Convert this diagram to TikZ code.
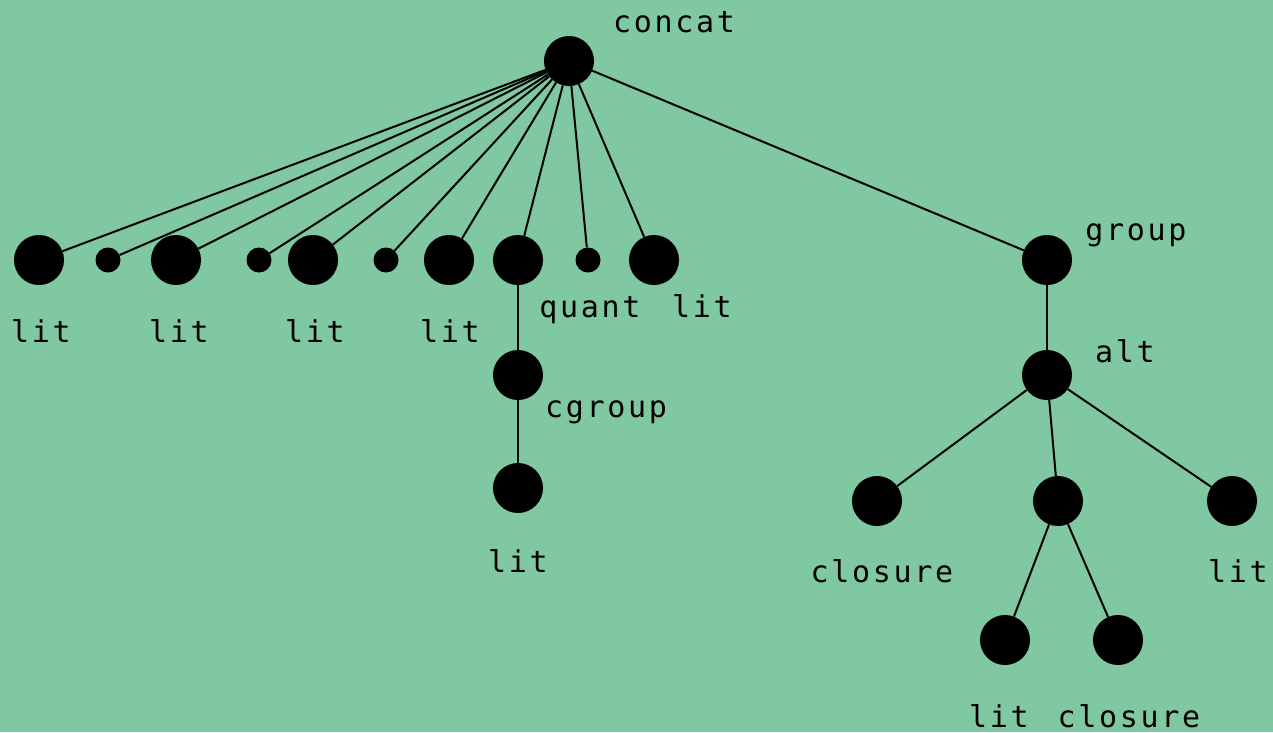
\documentclass[tikz,border=0pt]{standalone}
\usepackage{fontspec}
\newfontfamily\labelfont[LetterSpace=9]{DejaVu Sans Mono}
\definecolor{bgreen}{RGB}{128,200,161}
\begin{document}
\begin{tikzpicture}[x=1pt,y=-1pt,
  big/.style={circle,fill=black,inner sep=0pt,minimum size=50pt},
  small/.style={circle,fill=black,inner sep=0pt,minimum size=25pt},
  lbl/.style={anchor=base,inner sep=0pt,font=\labelfont\fontsize{30}{30}\selectfont},
  edge/.style={line width=2pt}]
\fill[bgreen] (0,0) rectangle (1273,732);
\useasboundingbox (0,0) rectangle (1273,732);

% tree nodes
\node[big] (concat) at (569,61) {};
\node[big] (l1) at (39,260) {};
\node[small] (s1) at (108,260) {};
\node[big] (l2) at (176,260) {};
\node[small] (s2) at (259,260) {};
\node[big] (l3) at (313,260) {};
\node[small] (s3) at (386,260) {};
\node[big] (l4) at (449,260) {};
\node[big] (quant) at (518,260) {};
\node[small] (s4) at (588,260) {};
\node[big] (l5) at (654,260) {};
\node[big] (group) at (1047,260) {};
\node[big] (cgroup) at (518,375) {};
\node[big] (l6) at (518,488) {};
\node[big] (alt) at (1047,375) {};
\node[big] (clo1) at (877,501) {};
\node[big] (mid) at (1058,501) {};
\node[big] (l7) at (1232,501) {};
\node[big] (l8) at (1005,640) {};
\node[big] (clo2) at (1118,640) {};

% connectors
\foreach \c in {l1,s1,l2,s2,l3,s3,l4,quant,s4,l5,group}
  \draw[edge] (concat) -- (\c);
\draw[edge] (quant) -- (cgroup);
\draw[edge] (cgroup) -- (l6);
\draw[edge] (group) -- (alt);
\draw[edge] (alt) -- (clo1);
\draw[edge] (alt) -- (mid);
\draw[edge] (alt) -- (l7);
\draw[edge] (mid) -- (l8);
\draw[edge] (mid) -- (clo2);

% labels
\node[lbl] (tconcat) at (674,32) {concat};
\node[lbl] (tl1) at (41,342) {lit};
\node[lbl] (tl2) at (179,342) {lit};
\node[lbl] (tl3) at (315,342) {lit};
\node[lbl] (tl4) at (450,342) {lit};
\node[lbl] (tquant) at (590,317) {quant};
\node[lbl] (tl5) at (702,317) {lit};
\node[lbl] (tgroup) at (1136,240) {group};
\node[lbl] (tcgroup) at (606,417) {cgroup};
\node[lbl] (tl6) at (518,572) {lit};
\node[lbl] (talt) at (1125,362) {alt};
\node[lbl] (tclo1) at (882,582) {closure};
\node[lbl] (tl7) at (1238,582) {lit};
\node[lbl] (tl8) at (999,727) {lit};
\node[lbl] (tclo2) at (1129,727) {closure};
\end{tikzpicture}
\end{document}
